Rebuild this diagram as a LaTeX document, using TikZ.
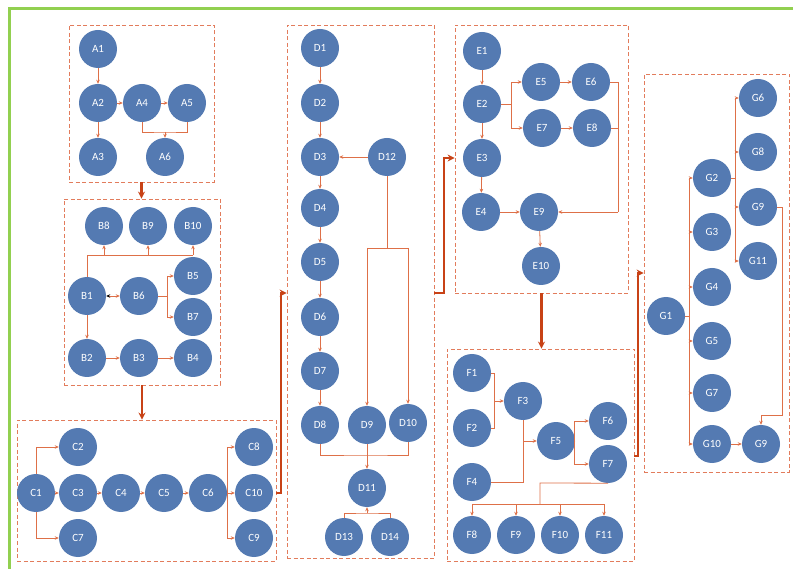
\documentclass[tikz,border=0pt]{standalone}
\usepackage{fontspec}
\newfontfamily\labfont{Carlito}
\usetikzlibrary{arrows.meta}
\definecolor{nodeblue}{RGB}{84,122,178}
\definecolor{lineor}{RGB}{222,112,72}
\definecolor{boxor}{RGB}{226,124,92}
\definecolor{bigred}{RGB}{200,66,22}
\definecolor{framegreen}{RGB}{146,208,80}
\tikzset{
 nd/.style={circle, fill=nodeblue, minimum size=38pt, inner sep=0pt, text=white, font=\labfont\fontsize{11}{13}\selectfont},
 ln/.style={draw=lineor, line width=0.8pt},
 ar/.style={ln, -{Stealth[length=4pt,width=3.5pt]}},
 grp/.style={draw=boxor, line width=0.8pt, dash pattern=on 4pt off 2.5pt, rectangle, inner sep=0pt},
 big/.style={draw=bigred, line width=2.4pt, -{Stealth[length=7pt,width=7pt]}}
}
\begin{document}
\begin{tikzpicture}[x=1pt,y=-1pt]
\useasboundingbox (0,0) rectangle (793,569);
\fill[white] (0,0) rectangle (793,569);
\draw[framegreen, line width=3pt] (9,575) -- (9,9) -- (800,9);

% group boxes
\node[grp, minimum width=145pt, minimum height=157pt] (boxA) at (141.5,103.5) {};
\node[grp, minimum width=156pt, minimum height=186pt] (boxB) at (142,292) {};
\node[grp, minimum width=259pt, minimum height=141pt] (boxC) at (146.5,490.5) {};
\node[grp, minimum width=147pt, minimum height=533pt] (boxD) at (360.5,291.5) {};
\node[grp, minimum width=173pt, minimum height=268pt] (boxE) at (541.5,159) {};
\node[grp, minimum width=187pt, minimum height=212pt] (boxF) at (540.5,455) {};
\node[grp, minimum width=145pt, minimum height=398pt] (boxG) at (716.5,273) {};

% A
\node[nd] (A1) at (98,49) {A1};
\node[nd] (A2) at (98,103) {A2};
\node[nd] (A4) at (142,103) {A4};
\node[nd] (A5) at (187,103) {A5};
\node[nd] (A3) at (98,157) {A3};
\node[nd] (A6) at (165,157) {A6};
\draw[ar] (A1) -- (A2);
\draw[ar] (A2) -- (A4);
\draw[ar] (A4) -- (A5);
\draw[ar] (A2) -- (A3);
\coordinate (a46) at (165,132);
\draw[ln] (A4.south) |- (a46) -| (A5.south);
\draw[ar] (a46) -- (A6);

% B
\node[nd] (B8) at (104,226) {B8};
\node[nd] (B9) at (148,226) {B9};
\node[nd] (B10) at (193,226) {B10};
\node[nd] (B5) at (193,276) {B5};
\node[nd] (B1) at (87,296) {B1};
\node[nd] (B6) at (139,296) {B6};
\node[nd] (B7) at (193,317) {B7};
\node[nd] (B2) at (87,358) {B2};
\node[nd] (B3) at (139,358) {B3};
\node[nd] (B4) at (193,358) {B4};
\coordinate (b1) at (87,255);
\draw[ln] (B1) -- (b1) -- (b1 -| B10);
\draw[ar] (b1 -| B8) -- (B8);
\draw[ar] (b1 -| B9) -- (B9);
\draw[ar] (b1 -| B10) -- (B10);
\draw[ln, {Stealth[length=4pt,width=3.5pt,black]}-{Stealth[length=4pt,width=3.5pt]}] (B1) -- (B6);
\coordinate (b6) at (167,296);
\draw[ln] (B6) -- (b6);
\draw[ln] (b6 |- B5) -- (b6 |- B7);
\draw[ar] (b6 |- B5) -- (B5);
\draw[ar] (b6 |- B7) -- (B7);
\draw[ar] (B1) -- (B2);
\draw[ar] (B2) -- (B3);
\draw[ar] (B3) -- (B4);

% C
\node[nd] (C1) at (36,493) {C1};
\node[nd] (C2) at (78,447) {C2};
\node[nd] (C3) at (78,493) {C3};
\node[nd] (C7) at (78,538) {C7};
\node[nd] (C4) at (121,493) {C4};
\node[nd] (C5) at (164,493) {C5};
\node[nd] (C6) at (208,493) {C6};
\node[nd] (C8) at (254,447) {C8};
\node[nd] (C10) at (254,493) {C10};
\node[nd] (C9) at (254,538) {C9};
\draw[ar] (C1) |- (C2);
\draw[ar] (C1) |- (C7);
\draw[ar] (C1) -- (C3);
\draw[ar] (C3) -- (C4);
\draw[ar] (C4) -- (C5);
\draw[ar] (C5) -- (C6);
\coordinate (c6) at (227,493);
\draw[ln] (C6) -- (c6);
\draw[ln] (c6 |- C8) -- (c6 |- C9);
\draw[ar] (c6 |- C8) -- (C8);
\draw[ar] (c6) -- (C10);
\draw[ar] (c6 |- C9) -- (C9);

% D
\node[nd] (D1) at (320,48) {D1};
\node[nd] (D2) at (320,103) {D2};
\node[nd] (D3) at (320,157) {D3};
\node[nd] (D12) at (387,157) {D12};
\node[nd] (D4) at (320,208) {D4};
\node[nd] (D5) at (320,262) {D5};
\node[nd] (D6) at (320,317) {D6};
\node[nd] (D7) at (320,371) {D7};
\node[nd] (D8) at (320,425) {D8};
\node[nd] (D9) at (367,425) {D9};
\node[nd] (D10) at (408,423) {D10};
\node[nd] (D11) at (367,488) {D11};
\node[nd] (D13) at (344,537) {D13};
\node[nd] (D14) at (390,537) {D14};
\draw[ar] (D1) -- (D2);
\draw[ar] (D2) -- (D3);
\draw[ar] (D3) -- (D4);
\draw[ar] (D4) -- (D5);
\draw[ar] (D5) -- (D6);
\draw[ar] (D6) -- (D7);
\draw[ar] (D7) -- (D8);
\draw[ar] (D12) -- (D3);
\coordinate (d12) at (387,248);
\draw[ln] (D12) -- (d12);
\draw[ln] (d12 -| D9) -- (d12 -| D10);
\draw[ar] (d12 -| D9) -- (D9);
\draw[ar] (d12 -| D10) -- (D10);
\coordinate (d11) at (367,455);
\draw[ln] (D8) |- (d11) -| (D10);
\draw[ln] (D9) -- (d11);
\draw[ar] (d11) -- (D11);
\coordinate (d13) at (367,513);
\draw[ln] (D13) |- (d13) -| (D14);
\draw[ar] (d13) -- (D11);

% E
\node[nd] (E1) at (482,51) {E1};
\node[nd] (E2) at (482,104) {E2};
\node[nd] (E5) at (541,82) {E5};
\node[nd] (E6) at (591,82) {E6};
\node[nd] (E7) at (542,128) {E7};
\node[nd] (E8) at (592,128) {E8};
\node[nd] (E3) at (482,158) {E3};
\node[nd] (E4) at (481,212) {E4};
\node[nd] (E9) at (539,212) {E9};
\node[nd] (E10) at (541,266) {E10};
\draw[ar] (E1) -- (E2);
\draw[ar] (E2) -- (E3);
\draw[ar] (E3) -- (E4);
\draw[ar] (E4) -- (E9);
\draw[ar] (E9) -- (E10);
\draw[ar] (E5) -- (E6);
\draw[ar] (E7) -- (E8);
\coordinate (e2) at (511,104);
\draw[ln] (E2) -- (e2);
\draw[ar] (e2) |- (E5);
\draw[ar] (e2) |- (E7);
\coordinate (e9) at (618,212);
\draw[ln] (E6) -| (e9);
\draw[ln] (E8) -| (e9);
\draw[ar] (e9) -- (E9);

% F
\node[nd] (F1) at (472,373) {F1};
\node[nd] (F2) at (472,428) {F2};
\node[nd] (F3) at (523,401) {F3};
\node[nd] (F5) at (556,441) {F5};
\node[nd] (F6) at (608,421) {F6};
\node[nd] (F7) at (608,464) {F7};
\node[nd] (F4) at (472,482) {F4};
\node[nd] (F8) at (472,535) {F8};
\node[nd] (F9) at (516,535) {F9};
\node[nd] (F10) at (560,535) {F10};
\node[nd] (F11) at (604,535) {F11};
\coordinate (f12) at (494,401);
\draw[ln] (F1) -| (f12);
\draw[ln] (F2) -| (f12);
\draw[ar] (f12) -- (F3);
\coordinate (f34) at (523,482);
\draw[ln] (F3) -- (f34) -- (F4);
\draw[ar] (f34 |- F5) -- (F5);
\coordinate (f5) at (574,441);
\draw[ln] (F5) -- (f5);
\draw[ar] (f5) |- (F6);
\draw[ar] (f5) |- (F7);
\coordinate (f7) at (540,483);
\coordinate (f8) at (540,504);
\draw[ln] (F7.south) -- (f7) -- (f8);
\draw[ln] (f8 -| F8) -- (f8 -| F11);
\draw[ar] (f8 -| F8) -- (F8);
\draw[ar] (f8 -| F9) -- (F9);
\draw[ar] (f8 -| F10) -- (F10);
\draw[ar] (f8 -| F11) -- (F11);

% G
\node[nd] (G6) at (758,98) {G6};
\node[nd] (G8) at (758,152) {G8};
\node[nd] (G2) at (712,178) {G2};
\node[nd] (G9a) at (758,207) {G9};
\node[nd] (G3) at (712,232) {G3};
\node[nd] (G11) at (758,261) {G11};
\node[nd] (G4) at (712,287) {G4};
\node[nd] (G1) at (666,316) {G1};
\node[nd] (G5) at (712,341) {G5};
\node[nd] (G7) at (712,393) {G7};
\node[nd] (G10) at (712,444) {G10};
\node[nd] (G9b) at (761,444) {G9};
\coordinate (g1) at (689,316);
\draw[ln] (G1) -- (g1);
\draw[ln] (g1 |- G2) -- (g1 |- G10);
\foreach \n in {G2,G3,G4,G5,G7,G10} \draw[ar] (g1 |- \n) -- (\n);
\coordinate (g2) at (735,178);
\draw[ln] (G2) -- (g2);
\draw[ln] (g2 |- G6) -- (g2 |- G11);
\foreach \n in {G6,G8,G9a,G11} \draw[ar] (g2 |- \n) -- (\n);
\coordinate (g9) at (782,415);
\draw[ar] (G9a) -| (g9) -| (G9b);
\draw[ar] (G10) -- (G9b);

% thick connectors between groups
\draw[big] (boxA.south) -- (boxA.south |- boxB.north);
\draw[big] (boxB.south) -- (boxB.south |- boxC.north);
\coordinate (cd) at (281,293);
\draw[big] (boxC.east |- C10) -| (cd) -- (cd -| boxD.west);
\coordinate (de0) at (444,293);
\coordinate (de) at (444,158);
\draw[big] (boxD.east |- de0) -- (de0) -- (de) -- (de -| boxE.west);
\draw[big] (boxE.south) -- (boxE.south |- boxF.north);
\coordinate (fg) at (638,456);
\draw[big] (boxF.east |- fg) -- (fg) |- (boxG.west);
\end{tikzpicture}
\end{document}
